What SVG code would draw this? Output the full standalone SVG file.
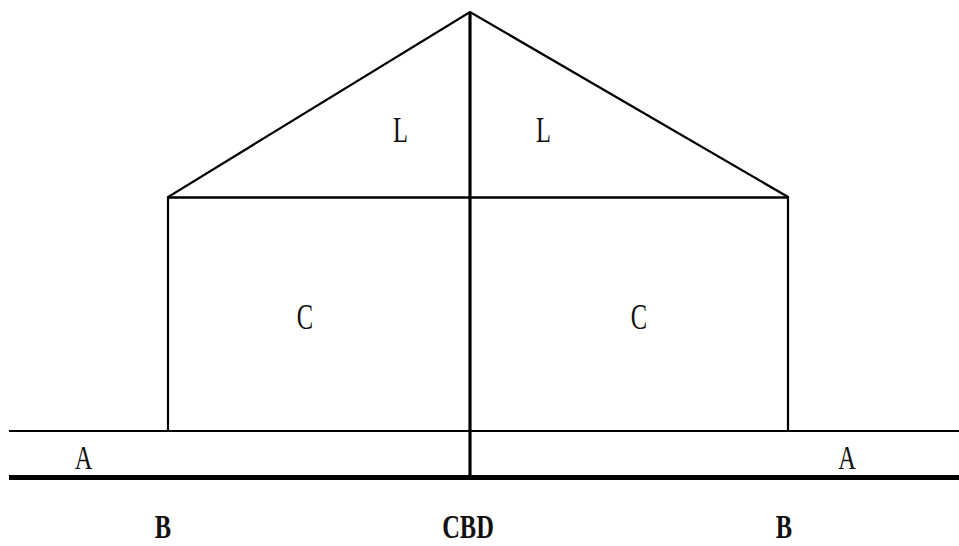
<svg xmlns="http://www.w3.org/2000/svg" width="959" height="546" viewBox="0 0 959 546">
<style>
.ln{stroke:#000;fill:none;stroke-linecap:butt}
.t{font-family:"Liberation Serif","Times New Roman",serif;font-size:36px;fill:#111;text-anchor:middle}
.b{font-weight:bold}
</style>
<rect width="959" height="546" fill="#fff"/>
<g id="connectors">
<polyline class="ln" points="168,431 168,197 470,12 788,197 788,431" stroke-width="2.2" stroke-linejoin="miter"/>
<line class="ln" x1="168" y1="197.5" x2="788" y2="197.5" stroke-width="2.5"/>
<line class="ln" x1="9" y1="431" x2="959" y2="431" stroke-width="2"/>
<line class="ln" x1="9" y1="477.5" x2="959" y2="477.5" stroke-width="5"/>
<line class="ln" x1="470" y1="12" x2="470" y2="477" stroke-width="3.2"/>
</g>
<g id="label-L-left"><text class="t" transform="translate(400.5,142) scale(0.68,1)">L</text></g>
<g id="label-L-right"><text class="t" transform="translate(543.5,142) scale(0.68,1)">L</text></g>
<g id="label-C-left"><text class="t" transform="translate(305,329) scale(0.68,1)">C</text></g>
<g id="label-C-right"><text class="t" transform="translate(639,329) scale(0.68,1)">C</text></g>
<g id="label-A-left"><text class="t" transform="translate(83.5,469) scale(0.68,0.92)">A</text></g>
<g id="label-A-right"><text class="t" transform="translate(847,469) scale(0.68,0.92)">A</text></g>
<g id="label-B-left"><text class="t b" transform="translate(163,538) scale(0.68,0.96)">B</text></g>
<g id="label-CBD"><text class="t b" transform="translate(468,538) scale(0.68,0.96)">CBD</text></g>
<g id="label-B-right"><text class="t b" transform="translate(784,538) scale(0.68,0.96)">B</text></g>
</svg>
